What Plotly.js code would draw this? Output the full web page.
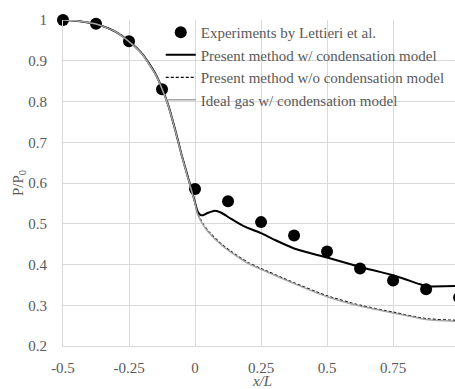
<!DOCTYPE html>
<html>
<head>
<meta charset="utf-8">
<script src="https://cdn.plot.ly/plotly-3.0.1.min.js"></script>
<style>html,body{margin:0;padding:0;background:#fff;overflow:hidden}#chart{width:462px;height:389px}</style>
</head>
<body>
<div id="chart"></div>
<script>
// Experiments by Lettieri et al.
const expX = [-0.5, -0.375, -0.25, -0.125, 0, 0.125, 0.25, 0.375, 0.5, 0.625, 0.75, 0.875, 1.0];
const expY = [1.0, 0.991, 0.948, 0.830, 0.585, 0.555, 0.504, 0.471, 0.432, 0.390, 0.361, 0.339, 0.319];

// Present method w/ condensation model
const condX = [-0.5, -0.45, -0.4, -0.375, -0.35, -0.3, -0.25, -0.2, -0.15, -0.125, -0.1, -0.075, -0.05, -0.025, -0.01, 0, 0.01, 0.02, 0.03, 0.05, 0.075, 0.1, 0.134, 0.184, 0.25, 0.3, 0.373, 0.5, 0.626, 0.752, 0.85, 0.88, 0.9, 0.986, 1.01];
const condY = [1.0, 0.998, 0.993, 0.99, 0.985, 0.971, 0.948, 0.917, 0.868, 0.832, 0.788, 0.73, 0.667, 0.61, 0.576, 0.552, 0.53, 0.522, 0.521, 0.527, 0.532, 0.527, 0.513, 0.494, 0.477, 0.461, 0.44, 0.417, 0.394, 0.373, 0.352, 0.346, 0.346, 0.347, 0.347];

// Present method w/o condensation model
const noCondX = [-0.5, -0.45, -0.4, -0.375, -0.35, -0.3, -0.25, -0.2, -0.15, -0.125, -0.1, -0.075, -0.05, -0.025, -0.01, 0, 0.01, 0.03, 0.05, 0.1, 0.134, 0.2, 0.25, 0.375, 0.5, 0.625, 0.75, 0.875, 0.986, 1.01];
const noCondY = [1.0, 0.998, 0.993, 0.99, 0.985, 0.971, 0.948, 0.917, 0.868, 0.832, 0.788, 0.73, 0.667, 0.61, 0.576, 0.552, 0.525, 0.5, 0.482, 0.45, 0.433, 0.405, 0.39, 0.355, 0.323, 0.3, 0.283, 0.267, 0.263, 0.263];

// Ideal gas w/ condensation model
const idealX = [-0.5, -0.45, -0.4, -0.375, -0.35, -0.3, -0.25, -0.2, -0.15, -0.125, -0.1, -0.075, -0.05, -0.025, -0.01, 0, 0.01, 0.03, 0.05, 0.1, 0.134, 0.2, 0.25, 0.375, 0.5, 0.625, 0.75, 0.875, 0.986, 1.01];
const idealY = [1.0, 0.998, 0.993, 0.99, 0.985, 0.971, 0.947, 0.916, 0.867, 0.831, 0.787, 0.729, 0.666, 0.608, 0.574, 0.55, 0.523, 0.498, 0.48, 0.448, 0.431, 0.403, 0.388, 0.353, 0.321, 0.298, 0.281, 0.265, 0.261, 0.261];

const xTickVals = [-0.5, -0.25, 0, 0.25, 0.5, 0.75, 1];
const xTickText = ['-0.5', '-0.25', '0', '0.25', '0.5', '0.75', ''];
const yTickVals = [0.2, 0.3, 0.4, 0.5, 0.6, 0.7, 0.8, 0.9, 1];
const yTickText = ['0.2', '0.3', '0.4', '0.5', '0.6', '0.7', '0.8', '0.9', '1'];

const serif = "'Liberation Serif', serif";
const txt = '#595959';

const traces = [
  {x: expX, y: expY, mode: 'markers', name: 'Experiments by Lettieri et al.',
   marker: {color: '#000', size: 12}, cliponaxis: false},
  {x: condX, y: condY, mode: 'lines', name: 'Present method w/ condensation model',
   line: {color: '#000', width: 2, shape: 'spline', smoothing: 0.6}},
  {x: noCondX, y: noCondY, mode: 'lines', name: 'Present method w/o condensation model',
   line: {color: '#000', width: 1.3, dash: '3px,2px', shape: 'spline', smoothing: 0.6}},
  {x: idealX, y: idealY, mode: 'lines', name: 'Ideal gas w/ condensation model',
   line: {color: '#a6a6a6', width: 1.5, shape: 'spline', smoothing: 0.6}}
];

const layout = {
  width: 462, height: 389,
  margin: {l: 63, r: 0, t: 20, b: 43, pad: 0},
  paper_bgcolor: '#fff', plot_bgcolor: '#fff',
  font: {family: serif, color: txt, size: 15},
  showlegend: true,
  legend: {x: 0.245, y: 1.012, xanchor: 'left', yanchor: 'top', bgcolor: 'rgba(0,0,0,0)',
           font: {family: serif, size: 15, color: txt}, itemwidth: 30, tracegroupgap: 0},
  xaxis: {range: [-0.5, 1.011], tickvals: xTickVals, ticktext: xTickText,
          showgrid: true, gridcolor: '#d9d9d9', gridwidth: 1, zeroline: false,
          showline: true, linecolor: '#d9d9d9', linewidth: 1, ticks: '',
          ticklabelstandoff: 8,
          tickfont: {family: serif, size: 15, color: txt},
          title: {text: '<i>x/L</i>', font: {family: serif, size: 15, color: txt}, standoff: 5}},
  yaxis: {range: [0.2, 1], tickvals: yTickVals, ticktext: yTickText,
          showgrid: true, gridcolor: '#d9d9d9', gridwidth: 1, zeroline: false,
          showline: true, linecolor: '#d9d9d9', linewidth: 1, ticks: '',
          ticklabelstandoff: 12,
          tickfont: {family: serif, size: 15, color: txt},
          title: {text: 'P/P<sub>0</sub>', font: {family: serif, size: 15, color: txt}, standoff: 0}}
};

Plotly.newPlot('chart', traces, layout, {displayModeBar: false, staticPlot: true});
</script>
</body>
</html>
